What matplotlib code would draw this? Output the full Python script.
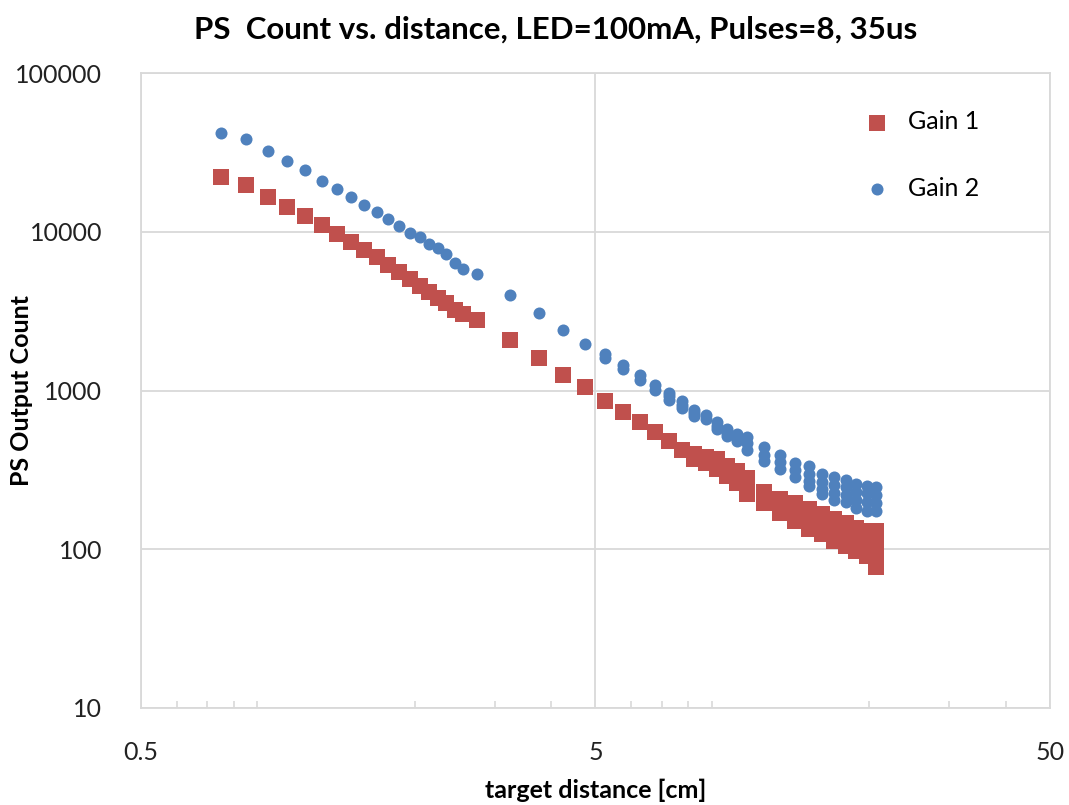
import matplotlib
matplotlib.use("Agg")
from matplotlib import pyplot as plt
from matplotlib.ticker import FixedLocator, NullFormatter

# Gain 1 (red squares)
gain1_x = [0.75, 0.85, 0.95, 1.05, 1.15, 1.25, 1.35, 1.45, 1.55, 1.65,
           1.75, 1.85, 1.95, 2.05, 2.15, 2.25, 2.35, 2.45, 2.55, 2.75,
           3.25, 3.75, 4.25, 4.75, 5.25, 5.75, 6.25, 6.75, 7.25, 7.75,
           8.25, 8.25, 8.75, 8.75,
           9.25, 9.25, 9.25, 9.75, 9.75, 9.75, 10.25, 10.25, 10.25,
           10.75, 10.75, 10.75, 11.75, 11.75, 11.75, 12.75, 12.75, 12.75,
           13.75, 13.75, 13.75, 14.75, 14.75, 14.75, 15.75, 15.75, 15.75,
           16.75, 16.75, 16.75, 17.75, 17.75, 17.75, 18.75, 18.75, 18.75,
           19.75, 19.75, 19.75, 20.75, 20.75, 20.75, 20.75, 20.75]
gain1_y = [22200, 19700, 16500, 14300, 12600, 11000, 9700, 8650, 7700, 6900,
           6200, 5550, 5050, 4550, 4200, 3800, 3550, 3200, 3050, 2800,
           2080, 1600, 1260, 1050, 860, 735, 636, 550, 483, 422,
           400, 370, 380, 350,
           369, 340, 319, 336, 310, 290, 312, 285, 263,
           283, 250, 222, 228, 210, 197, 207, 187, 170,
           197, 172, 151, 179, 155, 134, 166, 143, 124,
           155, 132, 113, 147, 124, 105, 137, 116, 98,
           131, 109, 91, 131, 114, 100, 88, 77]

# Gain 2 (blue dots)
gain2_x = [0.75, 0.85, 0.95, 1.05, 1.15, 1.25, 1.35, 1.45, 1.55, 1.65,
           1.75, 1.85, 1.95, 2.05, 2.15, 2.25, 2.35, 2.45, 2.55, 2.75,
           3.25, 3.75, 4.25, 4.75, 5.25, 5.25, 5.75, 5.75, 6.25, 6.25,
           6.75, 6.75, 7.25, 7.25, 7.25, 7.75, 7.75, 7.75, 8.25, 8.25, 8.25,
           8.75, 8.75, 9.25, 9.25, 9.25, 9.75, 9.75, 9.75,
           10.25, 10.25, 10.25, 10.75, 10.75, 10.75,
           11.75, 11.75, 11.75, 12.75, 12.75, 12.75, 13.75, 13.75, 13.75,
           14.75, 14.75, 14.75, 14.75, 15.75, 15.75, 15.75, 15.75,
           16.75, 16.75, 16.75, 16.75, 17.75, 17.75, 17.75, 17.75,
           18.75, 18.75, 18.75, 18.75, 19.75, 19.75, 19.75, 19.75,
           20.75, 20.75, 20.75, 20.75]
gain2_y = [41700, 38400, 32300, 27900, 24500, 21000, 18600, 16500, 14750, 13400,
           12000, 10800, 9860, 9230, 8370, 7870, 7240, 6330, 5800, 5420,
           4000, 3060, 2400, 1960, 1700, 1610, 1450, 1360, 1256, 1173,
           1086, 1014, 967, 920, 877, 853, 810, 778, 759, 720, 689,
           696, 657, 631, 600, 575, 571, 540, 515,
           532, 505, 480, 509, 465, 424,
           439, 395, 358, 393, 355, 322, 348, 315, 284,
           336, 300, 270, 249, 298, 265, 240, 222,
           284, 255, 225, 203, 275, 245, 220, 198,
           257, 230, 205, 182, 252, 225, 198, 174,
           246, 220, 195, 174]

x_ticks = [0.5, 5, 50]
x_tick_labels = ["0.5", "5", "50"]
y_ticks = [10, 100, 1000, 10000, 100000]
y_tick_labels = ["10", "100", "1000", "10000", "100000"]

plt.rcParams['font.family'] = ['Lato', 'DejaVu Sans']

fig = plt.figure(figsize=(10.69, 8.05), dpi=100)
ax = fig.add_axes([0.1319, 0.1205, 0.8503, 0.7888])

grid_c = '#D9D9D9'
ax.scatter(gain1_x, gain1_y, marker='s', s=132, color='#C0504D', linewidths=0,
           label='Gain 1', zorder=3)
ax.scatter(gain2_x, gain2_y, marker='o', s=75, color='#4F81BD', linewidths=0,
           label='Gain 2', zorder=4)

ax.set_xscale('log')
ax.set_yscale('log')
ax.set_xlim(0.5, 50)
ax.set_ylim(10, 100000)

ax.xaxis.set_major_locator(FixedLocator(x_ticks))
ax.set_xticklabels(x_tick_labels)
ax.yaxis.set_major_locator(FixedLocator(y_ticks))
ax.set_yticklabels(y_tick_labels)
ax.yaxis.set_minor_formatter(NullFormatter())
ax.xaxis.set_minor_formatter(NullFormatter())
ax.yaxis.set_minor_locator(FixedLocator([]))

ax.grid(True, which='major', color=grid_c, linewidth=1.3)
for s in ax.spines.values():
    s.set_color(grid_c)
    s.set_linewidth(1.3)

ax.tick_params(axis='x', which='major', length=0, pad=24, labelsize=18,
               colors='#222222')
ax.tick_params(axis='x', which='minor', direction='in', length=5,
               color=grid_c, width=1.2)
ax.tick_params(axis='y', which='major', length=0, pad=28, labelsize=18,
               colors='#222222')

fig.text(556 / 1069, 1 - 30 / 805,
         "PS  Count vs. distance, LED=100mA, Pulses=8, 35us",
         fontsize=22.5, fontweight='bold', ha='center', va='center')
ax.set_xlabel("target distance [cm]", fontsize=18, fontweight='bold',
              va='center')
ax.xaxis.set_label_coords(0.5, -0.129)
ax.set_ylabel("PS Output Count", fontsize=18, fontweight='bold', va='center')
ax.yaxis.set_label_coords(-0.131, 0.5)

leg = ax.legend(loc='upper left', bbox_to_anchor=(0.757, 0.977), frameon=False,
                fontsize=18, labelspacing=1.75, handletextpad=0.25,
                scatterpoints=1)

fig.savefig('out.png', dpi=100)
